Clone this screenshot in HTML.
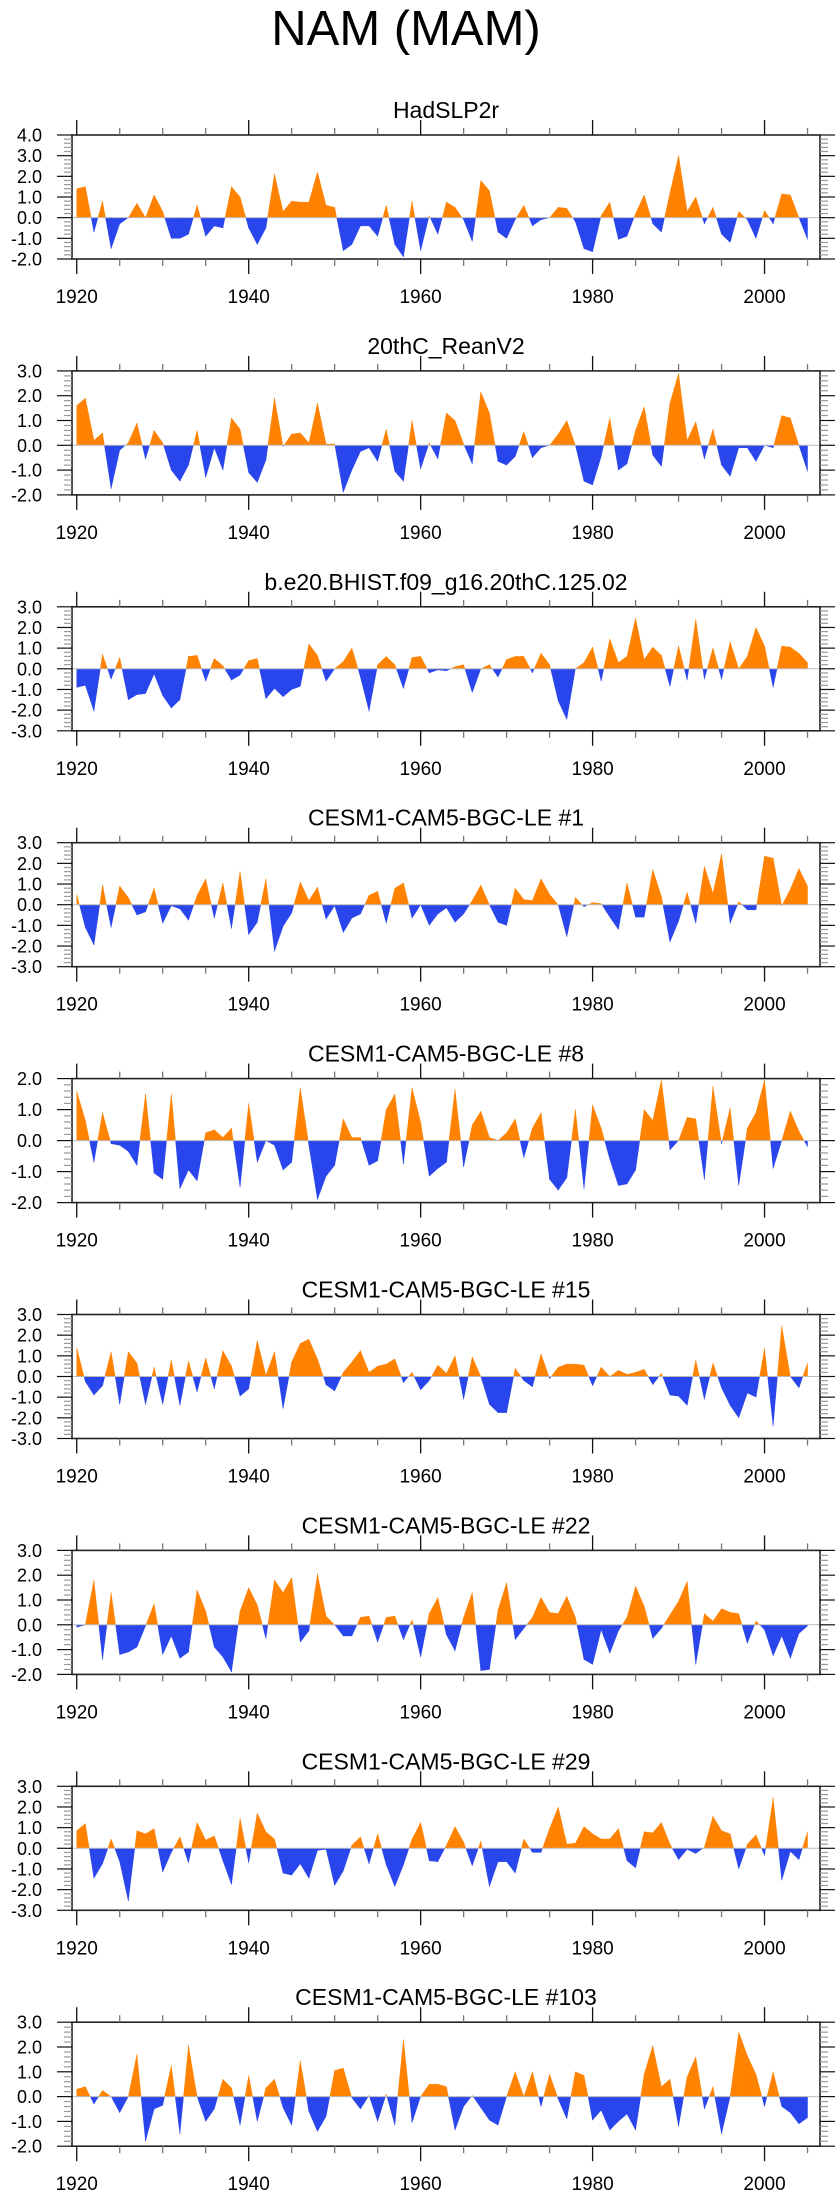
<!DOCTYPE html>
<html><head><meta charset="utf-8"><style>
html,body{margin:0;padding:0;background:#fff;}
svg{display:block;font-family:"Liberation Sans",Arial,sans-serif;}
</style></head><body>
<svg id="fig" width="840" height="2200" viewBox="0 0 840 2200">
<text x="406" y="45" font-size="49" text-anchor="middle">NAM (MAM)</text>
</svg>
<script>
const years = []; for (let y = 1920; y <= 2005; y++) years.push(y);
const panelTitles = ["HadSLP2r","20thC_ReanV2","b.e20.BHIST.f09_g16.20thC.125.02","CESM1-CAM5-BGC-LE #1","CESM1-CAM5-BGC-LE #8","CESM1-CAM5-BGC-LE #15","CESM1-CAM5-BGC-LE #22","CESM1-CAM5-BGC-LE #29","CESM1-CAM5-BGC-LE #103"];
const yMins = [-2,-2,-3,-3,-2,-3,-2,-3,-2];
const yMaxs = [4,3,3,3,2,3,3,3,3];
const xTickLabels = [1920,1940,1960,1980,2000];
const s1 = [1.4,1.5,-0.7,0.8,-1.5,-0.3,0,0.7,0,1.1,0.3,-1.0,-1.0,-0.8,0.6,-0.9,-0.4,-0.5,1.5,1.0,-0.5,-1.3,-0.5,2.1,0.3,0.8,0.75,0.75,2.2,0.6,0.5,-1.6,-1.3,-0.4,-0.4,-0.9,0.6,-1.3,-1.9,0.8,-1.6,0.1,-0.8,0.75,0.5,-0.1,-1.15,1.8,1.3,-0.7,-1.0,-0.1,0.6,-0.4,-0.1,0,0.5,0.45,-0.2,-1.5,-1.65,0.1,0.75,-1.05,-0.9,0.2,1.1,-0.3,-0.7,1.2,3.0,0.3,1.0,-0.3,0.5,-0.8,-1.2,0.3,-0.1,-1.0,0.35,-0.3,1.15,1.1,0,-1.05];
const s2 = [1.6,1.9,0.2,0.5,-1.75,-0.2,0.1,0.9,-0.55,0.6,0.1,-1.0,-1.45,-0.8,0.6,-1.3,-0.1,-1.0,1.1,0.65,-1.1,-1.5,-0.6,1.9,-0.05,0.45,0.5,0.1,1.7,0.05,0.05,-1.9,-1.0,-0.25,-0.1,-0.65,0.65,-1.05,-1.45,1.0,-0.95,0.1,-0.55,1.3,1.0,0.05,-0.75,2.15,1.3,-0.65,-0.8,-0.45,0.55,-0.5,-0.1,0,0.45,1.0,0,-1.45,-1.6,-0.45,1.1,-1.0,-0.75,0.6,1.55,-0.4,-0.85,1.7,2.9,0.2,0.95,-0.55,0.65,-0.8,-1.25,-0.1,-0.1,-0.65,0,-0.1,1.2,1.1,0,-1.05];
const s3 = [-0.9,-0.8,-2.05,0.7,-0.5,0.55,-1.5,-1.25,-1.2,-0.25,-1.3,-1.9,-1.5,0.6,0.65,-0.6,0.5,0.15,-0.55,-0.3,0.4,0.5,-1.45,-0.95,-1.35,-1.0,-0.85,1.2,0.65,-0.6,0,0.35,1.0,-0.4,-2.05,0.2,0.6,0.2,-0.95,0.55,0.6,-0.2,-0.05,-0.1,0.1,0.2,-1.15,0,0.2,-0.4,0.45,0.6,0.6,-0.2,0.75,0.2,-1.55,-2.45,0,0.3,1.05,-0.6,1.45,0.3,0.6,2.45,0.45,1.05,0.65,-0.85,1.1,-0.55,2.4,-0.5,1.0,-0.5,1.3,0,0.6,2.0,1.1,-0.9,1.1,1.05,0.75,0.3];
const s4 = [0.5,-1.1,-1.95,0.95,-1.1,0.9,0.35,-0.5,-0.35,0.8,-0.9,-0.05,-0.2,-0.75,0.45,1.25,-0.65,1.05,-1.15,1.6,-1.45,-0.85,1.25,-2.25,-1.05,-0.4,1.1,0.2,0.85,-0.7,-0.05,-1.35,-0.65,-0.45,0.45,0.65,-0.9,0.8,1.05,-0.65,0,-1.0,-0.45,-0.15,-0.85,-0.45,0.2,0.95,0,-0.85,-1.0,0.8,0.25,0.2,1.25,0.5,0,-1.55,0.35,-0.1,0.1,0.05,-0.6,-1.2,1.05,-0.6,-0.6,1.7,0.4,-1.8,-0.8,0.6,-0.9,1.85,0.55,2.45,-0.9,0.15,-0.25,-0.25,2.35,2.25,-0.05,0.75,1.75,0.9];
const s5 = [1.6,0.65,-0.7,0.9,-0.1,-0.15,-0.35,-0.8,1.5,-1.05,-1.25,1.5,-1.55,-0.95,-1.3,0.25,0.35,0.1,0.4,-1.5,1.2,-0.7,0,-0.15,-0.95,-0.7,1.7,-0.15,-1.9,-1.15,-0.8,0.7,0.1,0.1,-0.8,-0.65,1.0,1.5,-0.75,1.7,0.6,-1.15,-0.9,-0.7,1.65,-0.85,0.5,0.95,0.1,0,0.25,0.7,-0.55,0.4,0.9,-1.25,-1.6,-1.2,1.0,-1.55,1.15,0.4,-0.6,-1.45,-1.4,-0.95,1.0,0.65,1.95,-0.3,0,0.75,0.7,-1.25,1.75,-0.1,1.05,-1.45,0.4,0.9,1.95,-0.9,0,0.95,0.3,-0.2];
const s6 = [1.4,-0.25,-0.9,-0.45,1.2,-1.35,1.2,0.65,-1.35,0.45,-1.35,0.8,-1.4,0.75,-0.75,0.9,-0.6,1.25,0.5,-0.95,-0.6,1.75,0.05,1.2,-1.55,0.7,1.6,1.8,0.85,-0.4,-0.7,0.2,0.7,1.25,0.2,0.5,0.6,0.85,-0.3,0.2,-0.65,-0.2,0.55,0.15,1.0,-1.1,0.95,0,-1.35,-1.75,-1.75,0.4,-0.2,-0.5,1.1,-0.1,0.45,0.6,0.6,0.55,-0.45,0.45,0,0.3,0.1,0.2,0.35,-0.4,0.15,-0.9,-0.95,-1.4,0.8,-1.1,0.65,-0.55,-1.4,-2.0,-0.8,-1.0,1.35,-2.4,2.45,0,-0.55,0.65];
const s7 = [-0.1,0,1.8,-1.4,1.3,-1.2,-1.1,-0.9,-0.05,0.85,-1.2,-0.45,-1.35,-1.1,1.4,0.55,-0.9,-1.3,-1.9,0.55,1.5,0.8,-0.55,1.8,1.3,1.9,-0.7,-0.25,2.05,0.35,0,-0.45,-0.45,0.3,0.35,-0.7,0.3,0.35,-0.6,0.2,-1.3,0.45,1.1,-0.4,-1.05,0.3,1.3,-1.85,-1.8,0.6,1.7,-0.6,-0.15,0.3,1.1,0.5,0.45,1.15,0.3,-1.4,-1.6,-0.2,-1.15,-0.25,0.3,1.55,0.75,-0.55,-0.15,0.4,0.95,1.75,-1.6,0.45,0.15,0.65,0.5,0.45,-0.75,0.15,-0.2,-1.25,-0.45,-1.35,-0.35,-0.05];
const s8 = [0.85,1.2,-1.45,-0.75,0.45,-0.65,-2.55,0.85,0.7,0.95,-1.15,-0.2,0.55,-0.7,1.25,0.4,0.6,-0.6,-1.75,1.45,-0.7,1.7,0.8,0.45,-1.2,-1.3,-0.75,-1.45,-0.1,-0.05,-1.8,-1.1,0.15,0.55,-0.75,0.7,-0.8,-1.85,-0.8,0.45,1.25,-0.6,-0.65,0.15,1.05,0.3,-0.85,0.35,-1.85,-0.65,-0.65,-1.2,0.45,-0.2,-0.2,0.95,2.0,0.2,0.25,1.05,0.7,0.45,0.45,0.95,-0.6,-0.95,0.8,0.75,1.25,0.2,-0.55,-0.05,-0.25,0.05,1.55,0.85,0.7,-1.0,0.2,0.65,-0.35,2.45,-1.55,-0.15,-0.55,0.8];
const s9 = [0.3,0.4,-0.3,0.25,0,-0.65,0,1.7,-1.8,-0.5,-0.35,1.25,-1.5,2.05,0,-1.0,-0.5,0.7,0.35,-1.15,0.85,-1.0,0.35,0.7,-0.45,-1.15,1.45,-0.6,-1.4,-0.8,1.05,1.15,-0.05,-0.5,0.05,-1.0,0.1,-1.15,2.3,-1.05,0,0.5,0.5,0.4,-1.35,-0.4,0.05,-0.45,-0.95,-1.15,0,1.0,0,1.0,-0.4,0.9,-0.1,-0.9,1.0,0.85,-0.95,-0.55,-1.35,-1.0,-0.7,-1.35,0.9,2.05,0.4,0.7,-1.2,0.8,1.6,-0.5,0.4,-1.5,0,2.6,1.65,0.9,-0.4,1.0,-0.4,-0.65,-1.1,-0.85];
const seriesList = [s1,s2,s3,s4,s5,s6,s7,s8,s9];

const NS = "http://www.w3.org/2000/svg";
const svg = document.getElementById("fig");
const X0 = 72, X1 = 820, XMIN = 1919.45, XMAX = 2006.45;
const xs = v => X0 + (v - XMIN) / (XMAX - XMIN) * (X1 - X0);
function mk(tag, attrs, parent) { const e = document.createElementNS(NS, tag); for (const k in attrs) e.setAttribute(k, attrs[k]); (parent || svg).appendChild(e); return e; }

seriesList.forEach((data, p) => {
  const top = 135 + 235.9 * p, H = 124, bot = top + H;
  const ymin = yMins[p], ymax = yMaxs[p];
  const ys = v => bot - (v - ymin) / (ymax - ymin) * H;
  const g = mk("g", {});
  
  
  const t = mk("text", {x: (X0 + X1) / 2, y: top - 17, "font-size": 23, "text-anchor": "middle"}, g);
  
  
  t.textContent = panelTitles[p];
  // build fills
  const z = ys(0);
  let pos = "", neg = "";
  for (let i = 0; i < data.length - 1; i++) {
    const xa = xs(years[i]), xb = xs(years[i + 1]), a = data[i], b = data[i + 1];
    const pts = [[xa, a]];
    if ((a > 0 && b < 0) || (a < 0 && b > 0)) { const f = a / (a - b); pts.push([xa + f * (xb - xa), 0]); }
    pts.push([xb, b]);
    for (let j = 0; j < pts.length - 1; j++) {
      const [x1, v1] = pts[j], [x2, v2] = pts[j + 1];
      const poly = `M${x1},${z}L${x1},${ys(v1)}L${x2},${ys(v2)}L${x2},${z}Z`;
      if (v1 + v2 >= 0) pos += poly; else neg += poly;
    }
  }
  const pp = mk("path", {d: pos, fill: "#ff8200", stroke: "#ff8200", "stroke-width": 0.4}, g);
  
  
  const np = mk("path", {d: neg, fill: "#2945ec", stroke: "#2945ec", "stroke-width": 0.4}, g);
  
  
  const zl = mk("line", {x1: X0, x2: X1, y1: z, y2: z, stroke: "#bbb", "stroke-width": 1}, g);
  
  
  const box = mk("rect", {x: X0, y: top, width: X1 - X0, height: H, fill: "none", stroke: "#222", "stroke-width": 1.6}, g);
  
  
  // x ticks
  for (let yr = 1920; yr <= 2005; yr += 5) {
    const x = xs(yr), major = yr % 20 === 0, L = major ? 15 : 7;
    mk("line", {x1: x, x2: x, y1: top, y2: top - L, stroke: major ? "#111" : "#777", "stroke-width": 1.3}, g);
    mk("line", {x1: x, x2: x, y1: bot, y2: bot + L, stroke: major ? "#111" : "#777", "stroke-width": 1.3}, g);
  }
  xTickLabels.forEach(yr => {
    const tl = mk("text", {x: xs(yr), y: bot + 44, "font-size": 19, "text-anchor": "middle"}, g);
    
    
    tl.textContent = yr;
  });
  // y ticks
  for (let k = Math.round(ymin * 5); k <= Math.round(ymax * 5); k++) {
    const v = k / 5, y = ys(v), major = k % 5 === 0, L = major ? 15 : 8;
    mk("line", {x1: X0, x2: X0 - L, y1: y, y2: y, stroke: major ? "#111" : "#999", "stroke-width": 1.2}, g);
    mk("line", {x1: X1, x2: X1 + L, y1: y, y2: y, stroke: major ? "#111" : "#999", "stroke-width": 1.2}, g);
    if (major) {
      const yl = mk("text", {x: 42, y: y + 6.5, "font-size": 18, "text-anchor": "end"}, g);
      
      
      yl.textContent = v.toFixed(1);
    }
  }
});
</script>
</body></html>
